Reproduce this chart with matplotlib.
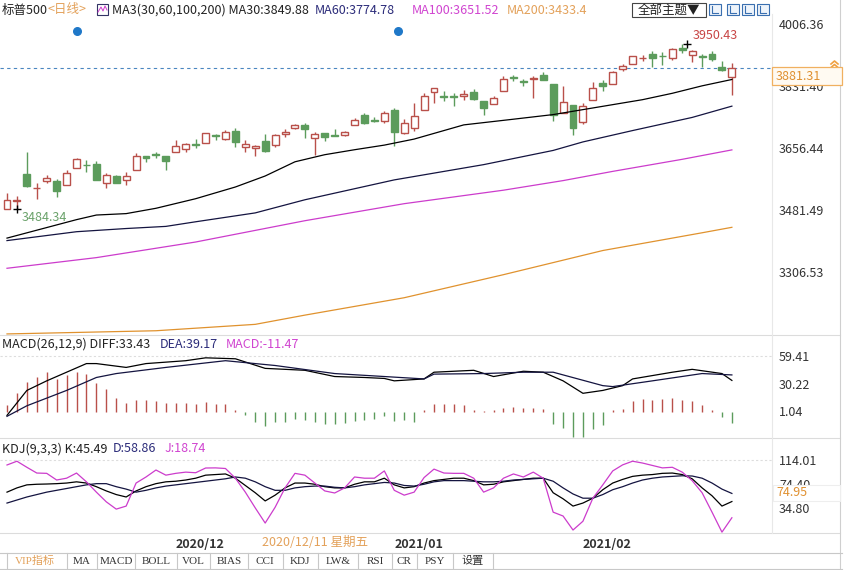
import numpy as np
import matplotlib.pyplot as plt
from matplotlib.patches import Rectangle
from matplotlib.transforms import blended_transform_factory

plt.rcParams['font.family'] = ['Noto Sans CJK SC', 'DejaVu Sans']
plt.rcParams['axes.unicode_minus'] = False

# ---- data (S&P 500 daily, 2020/11/05 .. 2021/02/23) ----
opens = [3485.74, 3508.34, 3583.04, 3543.26, 3563.22, 3562.67, 3552.57, 3600.16, 3610.31, 3612.09, 3559.41, 3579.31, 3566.82, 3594.52, 3635.50, 3638.55, 3634.18,
         3645.87, 3653.78, 3668.28, 3670.94, 3694.73, 3683.05, 3705.98, 3659.13, 3656.08, 3675.27, 3666.41, 3696.25, 3713.65, 3722.39, 3684.28, 3698.08, 3693.42, 3694.03, 3723.03, 3750.01, 3736.19, 3733.27,
         3764.61, 3698.02, 3712.20, 3764.71, 3815.05, 3803.14, 3801.62, 3802.23, 3814.98, 3788.73, 3781.88, 3816.22, 3857.46, 3844.24, 3851.68, 3862.96, 3836.83, 3755.75, 3778.05,
         3731.17, 3791.84, 3840.27, 3836.66, 3878.30, 3892.59, 3910.49, 3920.78, 3916.40, 3911.65, 3939.61, 3918.50, 3915.86, 3921.16, 3885.55, 3857.07]
highs = [3529.05, 3521.58, 3645.99, 3557.22, 3581.16, 3569.02, 3593.66, 3628.51, 3623.11, 3619.09, 3585.22, 3581.23, 3589.81, 3642.31, 3635.50, 3644.31, 3634.18,
         3678.45, 3670.96, 3682.73, 3699.20, 3697.41, 3708.45, 3712.39, 3678.49, 3665.91, 3697.61, 3695.29, 3711.27, 3725.12, 3726.70, 3702.90, 3698.26, 3711.24, 3703.82, 3740.51, 3756.12, 3744.63, 3760.20,
         3769.99, 3737.83, 3783.04, 3811.55, 3826.69, 3817.86, 3810.78, 3820.96, 3823.60, 3788.73, 3804.53, 3859.75, 3861.45, 3852.31, 3859.23, 3870.90, 3836.83, 3830.50, 3778.05,
         3784.32, 3843.09, 3847.51, 3872.42, 3894.56, 3915.77, 3918.35, 3931.50, 3925.99, 3937.23, 3950.43, 3933.61, 3921.98, 3930.41, 3902.92, 3895.98]
lows = [3485.74, 3484.34, 3547.48, 3511.91, 3557.00, 3518.58, 3552.57, 3600.16, 3588.68, 3567.33, 3543.84, 3556.85, 3552.77, 3594.52, 3617.76, 3629.33, 3594.39,
        3645.87, 3644.84, 3657.17, 3670.94, 3678.88, 3678.83, 3660.54, 3645.18, 3633.40, 3645.84, 3659.62, 3688.57, 3710.87, 3685.84, 3636.48, 3676.16, 3689.28, 3689.32, 3723.03, 3723.31, 3730.21, 3726.88,
        3662.71, 3695.07, 3705.34, 3764.71, 3783.60, 3789.02, 3776.51, 3791.50, 3792.86, 3749.62, 3780.37, 3816.22, 3845.05, 3830.41, 3797.16, 3847.78, 3732.48, 3755.75, 3694.12,
        3725.62, 3791.84, 3816.68, 3836.66, 3874.93, 3892.59, 3902.64, 3884.94, 3890.39, 3905.78, 3923.85, 3900.43, 3885.03, 3903.07, 3874.71, 3805.59]
closes = [3510.45, 3509.44, 3550.50, 3545.53, 3572.66, 3537.01, 3585.15, 3626.91, 3609.53, 3567.79, 3581.87, 3557.54, 3577.59, 3635.41, 3629.65, 3638.35, 3621.63,
          3662.45, 3669.01, 3666.72, 3699.12, 3691.96, 3702.25, 3672.82, 3668.10, 3663.46, 3647.49, 3694.62, 3701.17, 3722.48, 3709.41, 3694.92, 3687.26, 3690.01, 3703.06, 3735.36, 3727.04, 3732.04, 3756.07,
          3700.65, 3726.86, 3748.14, 3803.79, 3824.68, 3799.61, 3801.19, 3809.84, 3795.54, 3768.25, 3798.91, 3851.85, 3853.07, 3841.47, 3855.36, 3849.62, 3750.77, 3787.38, 3714.24,
          3773.86, 3826.31, 3830.17, 3871.74, 3886.83, 3915.59, 3911.23, 3909.88, 3916.38, 3934.83, 3932.59, 3931.33, 3913.97, 3906.71, 3876.50, 3881.31]

# moving averages (candle index, value)
ma30_idx = [0, 7, 9, 12, 15, 19, 23, 26, 29, 32, 35, 38, 41, 46, 51, 55, 58, 61, 64, 67, 70, 73]
ma30_val = [3403, 3455, 3468, 3472, 3487, 3514, 3547, 3578, 3618, 3638, 3652, 3665, 3682, 3722, 3738, 3751, 3765, 3779, 3793, 3811, 3832, 3849.88]
ma60_idx = [0, 7, 12, 16, 19, 25, 30, 39, 48, 55, 58, 63, 69, 73]
ma60_val = [3396, 3421, 3430, 3436, 3449, 3474, 3511, 3567, 3610, 3650, 3674, 3706, 3743, 3774.78]
ma100_idx = [0, 9, 19, 30, 40, 50, 56, 61, 68, 73]
ma100_val = [3318, 3348, 3392, 3452, 3500, 3538, 3565, 3591, 3625, 3651.52]
ma200_idx = [0, 15, 25, 30, 40, 50, 60, 70, 73]
ma200_val = [3133, 3142, 3160, 3186, 3235, 3300, 3368, 3418, 3433.4]

# MACD
macd_bar = [7.6, 20.5, 32.0, 36.5, 42.4, 35.4, 38.9, 42.4, 40.6, 30.9, 25.0, 15.3, 10.1, 12.9, 12.9, 12.2, 9.4, 10.1, 10.1, 8.7,
            10.8, 8.7, 8.7, 3.1, -2.8, -9.7, -13.9, -9.7, -9.7, -7.3, -8.0, -9.7, -11.5, -12.5, -10.8, -8.7, -8.0, -6.3, -3.8, -8.7,
            -8.0, -9.7, 3.1, 8.7, 8.7, 8.7, 7.6, 3.1, 1.4, 2.4, 4.2, 5.9, 4.2, 4.2, 3.8, -11.5, -16.0, -26.0, -26.0, -17.7,
            -13.2, 2.4, 3.8, 12.2, 14.2, 12.9, 14.2, 15.6, 13.5, 12.2, 7.6, 2.4, -5.2, -11.47]
diff_idx = [0, 2, 4, 6, 8, 9, 12, 14, 18, 20, 23, 26, 30, 33, 36, 38, 39, 42, 43, 47, 49, 52, 54, 56, 58, 60, 62, 63, 67, 69, 72, 73]
diff_val = [-3, 23, 33, 42, 51, 51, 47, 51, 54, 57, 56, 46, 44, 37.5, 36.5, 35.5, 33, 35, 42, 44, 37.5, 43, 42, 33, 20, 23, 28, 35, 42, 45, 40.6, 33.43]
dea_idx = [0, 2, 6, 9, 11, 16, 22, 27, 33, 38, 42, 43, 48, 52, 55, 60, 61, 65, 70, 73]
dea_val = [-4, 7, 23, 36.5, 40.6, 47, 54, 49, 40.6, 37.5, 35, 40, 40.6, 42, 42, 28, 27, 33, 40.6, 39.17]

# KDJ
k_val = [61, 68, 73, 74, 74.4, 75, 76, 78, 76, 70, 63, 57, 53, 63, 70, 75, 78, 79, 81, 84, 89, 90, 91, 84, 72, 60, 46.5, 56, 68, 76,
         76, 74, 70, 68, 68, 74, 78, 78, 84, 73, 68, 70, 76, 80, 82, 84, 84, 80, 73, 74, 78, 80, 82, 84, 84, 60, 50, 38, 43, 51,
         65, 76, 82, 87, 89, 90, 92, 92.5, 90, 83, 68, 55, 38, 45.49]
d_val = [43, 48, 53, 57, 61, 64, 67, 70, 73, 75, 75, 70, 66, 61, 64, 68, 71, 73, 75, 77, 79, 81, 83, 86, 84, 78, 70, 64, 64, 68,
         70, 71, 71, 69, 68, 70, 73, 75, 77, 76, 72, 71, 74, 78, 80, 80, 80, 79, 78, 78, 79, 81, 82, 83, 84, 79, 68, 58, 51, 51,
         57, 65, 70, 76, 81, 84, 86, 87, 88, 87.6, 84, 76, 66, 58.86]
j_val = [105.8, 112, 102, 92.5, 92, 81, 84, 92.5, 78, 61, 45, 33, 38, 76, 86, 97.5, 89, 92, 94, 93, 100.8, 101, 100, 84, 61, 35, 10, 36, 68, 92,
         89, 76, 63, 59.6, 68, 86, 84, 84, 96, 64, 56, 61, 85, 99, 92.5, 92, 92, 84, 61, 68, 84, 91, 86, 94, 84, 28, 21.6, -1.5, 13, 51,
         73, 96, 106, 112, 109, 105, 101, 102, 94, 80, 60, 28, -5, 18.74]

month_idx = [17, 39, 58]
month_labels = ['2020/12', '2021/01', '2021/02']
price_ticks = [4006.36, 3831.40, 3656.44, 3481.49, 3306.53]
macd_ticks = [59.41, 30.22, 1.04]
kdj_ticks = [114.01, 74.40, 34.80]

RED = '#b9504a'
GREEN = '#5c9c5c'
NAVY = '#141440'
MAG = '#cc3ccc'
ORANGE = '#e0922e'

W, H = 844, 570
fig = plt.figure(figsize=(W / 100, H / 100), dpi=100)


def rect(x0, y0, x1, y1):
    return [x0 / W, 1 - y1 / H, (x1 - x0) / W, (y1 - y0) / H]


XL = (-0.705, 77.04)
ax = fig.add_axes(rect(0, 14, 772, 335))
ax_m = fig.add_axes(rect(0, 335, 772, 438))
ax_k = fig.add_axes(rect(0, 438, 772, 535))

for a in (ax, ax_m, ax_k):
    a.set_xlim(*XL)
    for s in a.spines.values():
        s.set_visible(False)
    a.yaxis.tick_right()
    a.tick_params(axis='y', length=0, pad=5, labelsize=9, colors='#333333')
    a.patch.set_alpha(0)

# ---- main candle panel ----
idx = np.arange(len(closes))
o = np.array(opens)
c = np.array(closes)
hi = np.array(highs)
lo = np.array(lows)
up = c >= o
cols = np.where(up, RED, GREEN)
ax.vlines(idx, lo, hi, colors=cols, lw=1, zorder=2)
ax.bar(idx, np.maximum(np.abs(c - o), 0.8), bottom=np.minimum(o, c), width=0.7,
       color=np.where(up, 'white', GREEN), edgecolor=cols, lw=1, zorder=3)

ax.plot(ma30_idx, ma30_val, color='black', lw=0.9, zorder=4)
ax.plot(ma60_idx, ma60_val, color=NAVY, lw=0.9, zorder=4)
ax.plot(ma100_idx, ma100_val, color=MAG, lw=0.9, zorder=4)
ax.plot(ma200_idx, ma200_val, color=ORANGE, lw=0.9, zorder=4)

ax.axhline(closes[-1], color='#4a86c0', lw=0.8, ls=(0, (3, 3)), zorder=1)
ax.set_ylim(3130, 4034.4)
ax.set_yticks(price_ticks)
ax.set_yticklabels(['%.2f' % v for v in price_ticks])
ax.set_xticks([])

hmax = int(np.argmax(hi))
hmin = int(np.argmin(lo))
ax.plot(hmax + 0.5, hi[hmax], marker='+', color='black', ms=6, mew=1, zorder=5)
ax.text(hmax + 1.0, hi[hmax] + 22, '%.2f' % hi[hmax], color='#c84545', fontsize=9, ha='left', va='center')
ax.plot(hmin, lo[hmin], marker='+', color='black', ms=6, mew=1, zorder=5)
ax.text(hmin + 0.5, lo[hmin] - 22, '%.2f' % lo[hmin], color='#6ba26b', fontsize=9, ha='left', va='center')

tr = blended_transform_factory(ax.transData, ax.transAxes)
ax.scatter([7, 39.4], [0.947, 0.947], s=30, color='#1f78c8', transform=tr, zorder=5)

# ---- MACD panel ----
mb = np.array(macd_bar)
ax_m.vlines(idx, 0, mb, colors=np.where(mb >= 0, RED, GREEN), lw=1)
ax_m.plot(diff_idx, diff_val, color='black', lw=0.9)
ax_m.plot(dea_idx, dea_val, color=NAVY, lw=0.9)
ax_m.axhline(59.41, color='#dddddd', lw=0.8, ls=(0, (2, 2)), zorder=0)
ax_m.set_ylim(-26.6, 80.8)
ax_m.set_yticks(macd_ticks)
ax_m.set_yticklabels(['59.41', '30.22', '1.04'])
ax_m.set_xticks([])

# ---- KDJ panel ----
ax_k.plot(idx, k_val, color='black', lw=0.9)
ax_k.plot(idx, d_val, color=NAVY, lw=0.9)
ax_k.plot(idx, j_val, color=MAG, lw=0.9)
ax_k.axhline(114.01, color='#dddddd', lw=0.8, ls=(0, (2, 2)), zorder=0)
ax_k.set_ylim(-9.7, 150.3)
ax_k.set_yticks(kdj_ticks)
ax_k.set_yticklabels(['114.01', '74.40', '34.80'])
ax_k.set_xticks(month_idx)
ax_k.set_xticklabels(month_labels, ha='left', fontweight='bold', fontsize=9, color='#333333')
ax_k.tick_params(axis='x', length=0, pad=2)

# ---- overlay: headers, frame, tabs ----
ov = fig.add_axes([0, 0, 1, 1])
ov.set_xlim(0, W)
ov.set_ylim(H, 0)
ov.axis('off')
ov.patch.set_alpha(0)

fs = 9
ov.text(2, 10, '标普500', fontsize=fs, va='center', color='#222222')
ov.text(48, 10, '<日线>', fontsize=fs, va='center', color='#e3a15a')
ov.add_patch(Rectangle((97, 4), 11, 11, fill=False, ec='#333366', lw=0.8))
ov.plot([98, 101, 103, 105, 107], [12, 7, 11, 6, 10], color=MAG, lw=0.7)
ov.text(112, 10, 'MA3(30,60,100,200) MA30:3849.88', fontsize=fs, va='center', color='#222222')
ov.text(315, 10, 'MA60:3774.78', fontsize=fs, va='center', color='#2c2c7a')
ov.text(412, 10, 'MA100:3651.52', fontsize=fs, va='center', color='#d044d0')
ov.text(507, 10, 'MA200:3433.4', fontsize=fs, va='center', color='#e3a15a')

ov.add_patch(Rectangle((632, 3), 74, 14, fill=False, ec='#444444', lw=0.8))
ov.text(669, 10, '全部主题▼', fontsize=fs, va='center', ha='center', color='#222222')
for x0 in (709, 727, 742, 757):
    ov.add_patch(Rectangle((x0, 4), 12, 11, facecolor='#eef4fb', ec='#3a6fb0', lw=0.8))
    ov.plot([x0 + 3, x0 + 3, x0 + 9], [6, 13, 13], color='#3a6fb0', lw=0.8)

ov.text(2, 344, 'MACD(26,12,9) DIFF:33.43', fontsize=fs, va='center', color='#222222')
ov.text(160, 344, 'DEA:39.17', fontsize=fs, va='center', color='#2c2c7a')
ov.text(226, 344, 'MACD:-11.47', fontsize=fs, va='center', color='#d044d0')
ov.text(2, 449, 'KDJ(9,3,3) K:45.49', fontsize=fs, va='center', color='#222222')
ov.text(113, 449, 'D:58.86', fontsize=fs, va='center', color='#2c2c7a')
ov.text(165, 449, 'J:18.74', fontsize=fs, va='center', color='#d044d0')

# frame lines
for y in (335, 438, 533):
    ov.plot([0, 840], [y, y], color='#dcdcdc', lw=0.8)
ov.plot([772, 772], [14, 533], color='#e8e8e8', lw=0.8)
ov.plot([840, 840], [0, 570], color='#cfcfcf', lw=0.8)

# current price boxes
ov.add_patch(Rectangle((772, 67), 70, 18, facecolor='#fffaf2', ec='#f0b060', lw=0.9, zorder=5))
ov.text(776, 76.5, '3881.31', fontsize=fs, va='center', color='#e09030', zorder=6)
ov.plot([831, 834.5, 838], [64, 61, 64], color='#f0a040', lw=1.2)
ov.plot([831, 834.5, 838], [67.5, 64.5, 67.5], color='#f0a040', lw=1.2)
ov.add_patch(Rectangle((773, 485), 67, 16, facecolor='white', ec='#eeeeee', lw=0.8, zorder=5))
ov.text(776, 493, '74.95', fontsize=fs, va='center', color='#e09030', zorder=6)

ov.text(262, 542, '2020/12/11 星期五', fontsize=fs, va='center', color='#e3a15a')

# tab bar
ov.plot([0, 842], [553, 553], color='#c8c8c8', lw=0.8)
ov.plot([0, 842], [569, 569], color='#c8c8c8', lw=0.8)
for x in (7, 67, 97, 135, 177, 210, 248, 283, 318, 358, 392, 417, 453, 493):
    ov.plot([x, x], [553, 569], color='#c8c8c8', lw=0.8)
tabs = ['VIP指标', 'MA', 'MACD', 'BOLL', 'VOL', 'BIAS', 'CCI', 'KDJ', 'LW&', 'RSI', 'CR', 'PSY', '设置']
tab_x = [35, 82, 116, 156, 193, 229, 265, 300, 338, 375, 404, 435, 473]
for t, x in zip(tabs, tab_x):
    ov.text(x, 561, t, fontsize=8, ha='center', va='center',
            color='#e3a15a' if t == 'VIP指标' else '#333333',
            family=['Liberation Serif', 'Noto Sans CJK SC'])

fig.savefig('out.png', dpi=100, facecolor='white')
